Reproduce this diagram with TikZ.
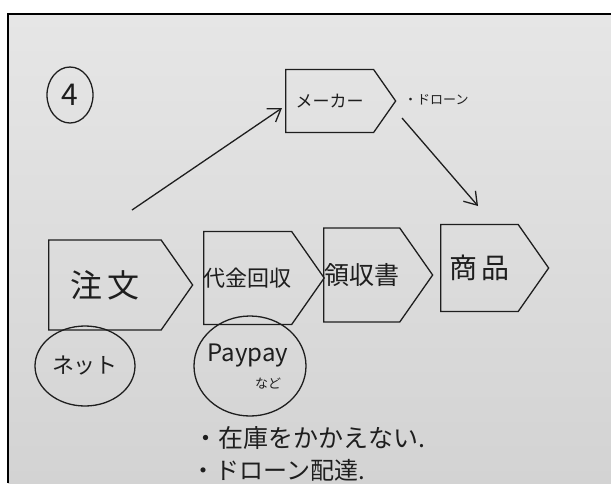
\documentclass[tikz,border=0pt]{standalone}
\usepackage{fontspec}
\newfontfamily\jp{Noto Sans CJK JP}
\newcommand\jfs[1]{\fontsize{#1}{#1}\selectfont}
\usetikzlibrary{shapes.symbols,shapes.geometric,arrows.meta}
\definecolor{bgtop}{HTML}{E6E6E6}
\definecolor{bgbot}{HTML}{D3D3D3}
\definecolor{ink}{HTML}{1E1E1E}
\begin{document}
\begin{tikzpicture}[x=1pt,y=-1pt,
  inkline/.style={draw=ink, line width=1.3pt},
  sig/.style={inkline, signal, signal to=east, signal from=nowhere, signal pointer angle=110, inner sep=0pt, anchor=west, text=ink},
  ell/.style={inkline, ellipse, inner sep=0pt, text=ink},
  arr/.style={inkline, -{Straight Barb[length=12pt,width=16pt]}},
  txt/.style={inner sep=0pt, text=ink, anchor=west}
]
\useasboundingbox (0,0) rectangle (611,483);
\fill[white] (0,0) rectangle (611,483);
\shade[top color=bgtop, bottom color=bgbot] (8,14) rectangle (611,483);
\draw[line width=2pt, black] (8,483) -- (8,14) -- (611,14);

% circled number
\node[ell, minimum width=46pt, minimum height=56pt, font=\jp\jfs{30}] (num) at (70,95) {4};

% maker
\node[sig, minimum width=110pt, minimum height=63pt, font=\jp\jfs{17}] (maker) at (285,101) {メーカー};
\node[txt, font=\jp\jfs{13}] (drone) at (404,100) {・ドローン};

% process row
\node[sig, minimum width=144pt, minimum height=90pt, font=\jp\jfs{32}] (chumon) at (48,285) {注\,文};
\node[sig, minimum width=112pt, minimum height=93pt, font=\jp\jfs{22}] (daikin) at (203,278) {代金回収};
\node[sig, minimum width=109pt, minimum height=94pt, font=\jp\jfs{25}] (ryoshu) at (323,275) {領収書};
\node[sig, minimum width=108pt, minimum height=87pt, font=\jp\jfs{28}] (shohin) at (440,268) {商\,品};

% ellipses
\node[ell, minimum width=100pt, minimum height=80pt, font=\jp\jfs{22}] (net) at (85,366) {ネット};
\node[ell, minimum width=112pt, minimum height=100pt, font=\jp\jfs{24}] (paypay) at (250,366) {};
\node[inner sep=0pt, text=ink, font=\jp\jfs{24}] (paytxt) at (248,356) {Paypay};
\node[inner sep=0pt, text=ink, font=\jp\jfs{13}] (nado) at (268,384) {など};

% notes
\node[txt, font=\jp\jfs{25}] (note1) at (193,438) {・在庫をかかえない.};
\node[txt, font=\jp\jfs{24}] (note2) at (191,470) {・ドローン配達.};

% connectors
\coordinate (a1s) at (132,210);
\coordinate (a1e) at (282,108);
\coordinate (a2s) at (402,118);
\coordinate (a2e) at (478,206);
\draw[arr] (a1s) -- (a1e);
\draw[arr] (a2s) -- (a2e);
\end{tikzpicture}
\end{document}
